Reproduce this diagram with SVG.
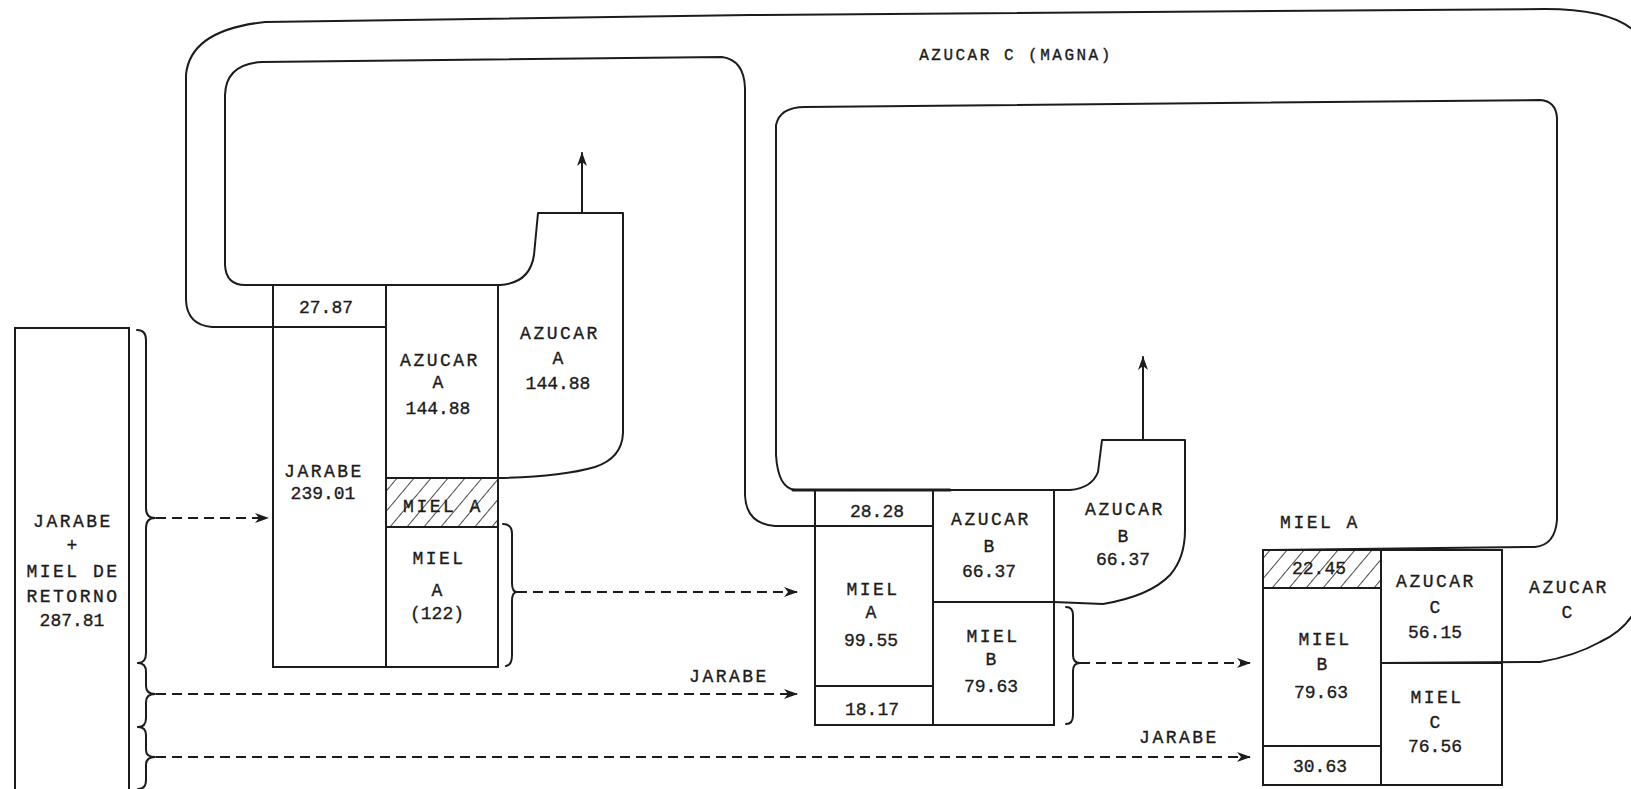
<svg xmlns="http://www.w3.org/2000/svg" width="1631" height="789" viewBox="0 0 1631 789">
<defs>
<style>
.ln{fill:none;stroke:#1c1c1c;stroke-width:2;stroke-linejoin:round;stroke-linecap:round}
.hv{fill:none;stroke:#1c1c1c;stroke-width:3;stroke-linecap:round}
.box{fill:none;stroke:#1c1c1c;stroke-width:2}
.dash{fill:none;stroke:#1c1c1c;stroke-width:2;stroke-dasharray:10 6}
text{font-family:"Liberation Mono","DejaVu Sans Mono",monospace;font-size:18px;fill:#1c1c1c;stroke:#1c1c1c;stroke-width:0.35;text-anchor:middle}
.w{letter-spacing:2.5px}
.s{font-size:16px}
</style>
<marker id="ah" markerWidth="14" markerHeight="10" refX="13" refY="5" orient="auto" markerUnits="userSpaceOnUse"><path d="M0 0 L14 5 L0 10 L4 5 Z" fill="#1c1c1c"/></marker>
<pattern id="hatch" width="13" height="13" patternUnits="userSpaceOnUse" patternTransform="rotate(40)"><line x1="0" y1="0" x2="0" y2="13" stroke="#1c1c1c" stroke-width="1.6"/></pattern>
</defs>
<rect width="1631" height="789" fill="#ffffff"/>

<g id="connectors">
<path id="loop-outer" class="ln" d="M 273 327 L 212 327 Q 187 325 186 300 L 186 75 Q 190 30 265 22 L 750 15 L 1545 9 Q 1622 9 1642 40 L 1642 590 Q 1636 625 1600 642 Q 1575 656 1540 662 L 1381 663"/>
<path id="loop-a" class="ln" d="M 933 526 L 775 526 Q 746 524 745 495 L 745 88 Q 744 60 722 57 L 262 62 Q 226 64 225 95 L 225 265 Q 226 285 245 285 L 500 285 Q 530 283 534 255 L 538 213 L 623 213 L 623 433 Q 622 458 595 467 Q 560 477 498 478"/>
<path id="loop-b" class="ln" d="M 1054 602 L 1103 604 Q 1150 596 1170 575 Q 1185 558 1185 530 L 1185 440 L 1102 440 L 1098 472 Q 1092 488 1070 490 L 795 490 Q 778 488 776 455 L 776 125 Q 780 107 805 107 L 1540 100 Q 1556 101 1557 118 L 1557 520 Q 1555 545 1535 547 L 1263 550"/>
<line class="hv" x1="793" y1="490" x2="950" y2="490"/>
<line class="ln" x1="582" y1="213" x2="582" y2="153" marker-end="url(#ah)"/>
<line class="ln" x1="1143" y1="440" x2="1143" y2="357" marker-end="url(#ah)"/>
<line class="dash" x1="156" y1="518" x2="268" y2="518" marker-end="url(#ah)"/>
<line class="dash" x1="517" y1="592" x2="797" y2="592" marker-end="url(#ah)"/>
<line class="dash" x1="156" y1="694" x2="797" y2="694" marker-end="url(#ah)"/>
<line class="dash" x1="1080" y1="663" x2="1250" y2="663" marker-end="url(#ah)"/>
<line class="dash" x1="156" y1="757" x2="1250" y2="757" marker-end="url(#ah)"/>
<text class="w" x="729" y="682">JARABE</text>
<text class="w" x="1179" y="743">JARABE</text>
<text class="w s" x="1016" y="60">AZUCAR C (MAGNA)</text>
</g>

<g id="braces">
<path class="ln" d="M 137 330 Q 146 330 146 340 L 146 508 Q 146 518 155 518 Q 146 518 146 528 L 146 653 Q 146 663 138 663"/>
<path class="ln" d="M 138 663 Q 146 663 146 672 L 146 686 Q 146 694 155 694 Q 146 694 146 702 L 146 718 Q 146 727 138 727"/>
<path class="ln" d="M 138 727 Q 146 727 146 735 L 146 750 Q 146 757 155 757 Q 146 757 146 765 L 146 780 Q 146 789 138 789"/>
<path class="ln" d="M 503 524 Q 512 524 512 534 L 512 583 Q 512 592 517 592 Q 512 592 512 601 L 512 655 Q 512 665 506 666"/>
<path class="ln" d="M 1066 607 Q 1073 607 1073 615 L 1073 655 Q 1073 663 1080 663 Q 1073 663 1073 671 L 1073 715 Q 1073 724 1066 724"/>
</g>

<g id="feed">
<rect class="box" x="15" y="328" width="114" height="470"/>
<text class="w" x="73" y="527">JARABE</text>
<text x="72" y="551">+</text>
<text class="w" x="73" y="577">MIEL DE</text>
<text class="w" x="73" y="602">RETORNO</text>
<text x="72" y="626">287.81</text>
</g>

<g id="a-magma">
<rect class="box" x="273" y="285" width="113" height="42"/>
<text x="326" y="313">27.87</text>
</g>
<g id="a-jarabe">
<rect class="box" x="273" y="327" width="113" height="340"/>
<text class="w" x="324" y="477">JARABE</text>
<text x="323" y="499">239.01</text>
</g>
<g id="a-azucar">
<rect class="box" x="386" y="285" width="112" height="193"/>
<text class="w" x="440" y="366">AZUCAR</text>
<text x="438" y="388">A</text>
<text x="438" y="414">144.88</text>
</g>
<g id="a-miel-hatch">
<rect x="386" y="478" width="112" height="49" fill="url(#hatch)" stroke="#1c1c1c" stroke-width="2"/>
<text class="w" x="443" y="512">MIEL A</text>
</g>
<g id="a-miel">
<rect class="box" x="386" y="527" width="112" height="140"/>
<text class="w" x="439" y="564">MIEL</text>
<text x="437" y="596">A</text>
<text x="437" y="619">(122)</text>
</g>
<g id="a-azucar-out">
<text class="w" x="560" y="339">AZUCAR</text>
<text x="558" y="364">A</text>
<text x="558" y="389">144.88</text>
</g>

<g id="b-magma">
<rect class="box" x="815" y="490" width="118" height="36"/>
<text x="877" y="517">28.28</text>
</g>
<g id="b-miel-a">
<rect class="box" x="815" y="526" width="118" height="160"/>
<text class="w" x="873" y="595">MIEL</text>
<text x="871" y="618">A</text>
<text x="871" y="646">99.55</text>
</g>
<g id="b-jarabe">
<rect class="box" x="815" y="686" width="118" height="39"/>
<text x="872" y="715">18.17</text>
</g>
<g id="b-azucar">
<rect class="box" x="933" y="490" width="121" height="112"/>
<text class="w" x="991" y="525">AZUCAR</text>
<text x="989" y="552">B</text>
<text x="989" y="577">66.37</text>
</g>
<g id="b-miel-b">
<rect class="box" x="933" y="602" width="121" height="123"/>
<text class="w" x="993" y="642">MIEL</text>
<text x="991" y="665">B</text>
<text x="991" y="692">79.63</text>
</g>
<g id="b-azucar-out">
<text class="w" x="1125" y="515">AZUCAR</text>
<text x="1123" y="542">B</text>
<text x="1123" y="565">66.37</text>
</g>

<g id="c-miel-a-label">
<text class="w" x="1320" y="528">MIEL A</text>
</g>
<g id="c-miel-a">
<rect x="1263" y="550" width="118" height="38" fill="url(#hatch)" stroke="#1c1c1c" stroke-width="2"/>
<text x="1319" y="574">22.45</text>
</g>
<g id="c-miel-b">
<rect class="box" x="1263" y="588" width="118" height="158"/>
<text class="w" x="1325" y="645">MIEL</text>
<text x="1322" y="670">B</text>
<text x="1321" y="698">79.63</text>
</g>
<g id="c-jarabe">
<rect class="box" x="1263" y="746" width="118" height="39"/>
<text x="1320" y="772">30.63</text>
</g>
<g id="c-azucar">
<rect class="box" x="1381" y="550" width="121" height="113"/>
<text class="w" x="1436" y="587">AZUCAR</text>
<text x="1435" y="613">C</text>
<text x="1435" y="638">56.15</text>
</g>
<g id="c-miel-c">
<rect class="box" x="1381" y="663" width="121" height="122"/>
<text class="w" x="1437" y="703">MIEL</text>
<text x="1435" y="728">C</text>
<text x="1435" y="752">76.56</text>
</g>
<g id="c-azucar-out">
<text class="w" x="1569" y="593">AZUCAR</text>
<text x="1567" y="618">C</text>
</g>
</svg>
